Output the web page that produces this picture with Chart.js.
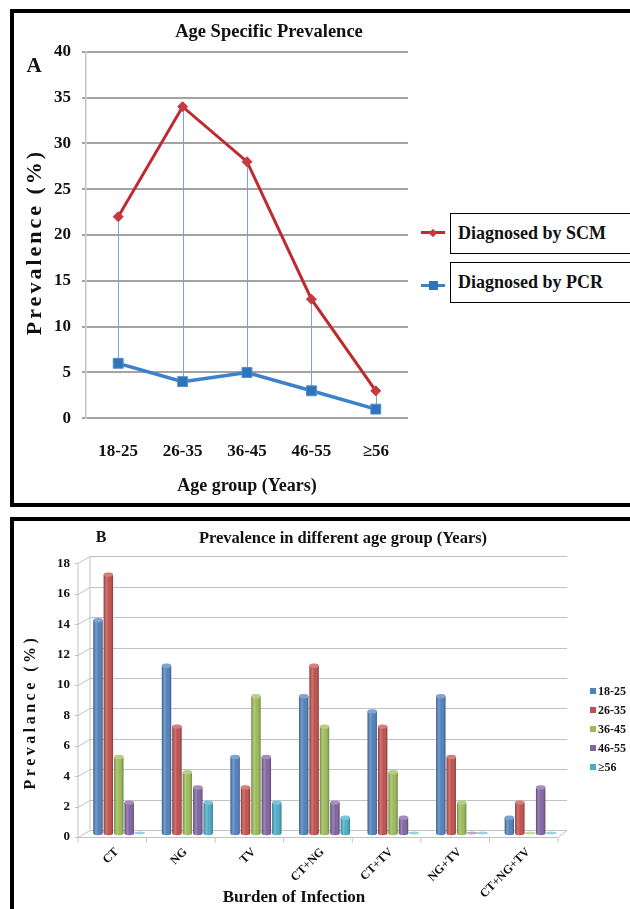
<!DOCTYPE html>
<html><head><meta charset="utf-8">
<script src="https://cdn.jsdelivr.net/npm/chart.js@4.4.1/dist/chart.umd.min.js"></script>
<style>
html,body{margin:0;padding:0;background:#fff;}
body{width:630px;height:909px;position:relative;overflow:hidden;font-family:"Liberation Serif","Times New Roman",serif;color:#111;}
.box{position:absolute;border:4px solid #000;box-sizing:border-box;}
.t{position:absolute;white-space:nowrap;font-weight:bold;transform:translate(-50%,-50%);line-height:1;}
.rot{transform:translate(-50%,-50%) rotate(-90deg);}
canvas{position:absolute;left:0;}
.lgA{position:absolute;border:1.5px solid #000;box-sizing:border-box;background:#fff;font-weight:bold;font-size:18px;padding-left:7px;white-space:nowrap;}
.lgB{position:absolute;font-weight:bold;font-size:12px;white-space:nowrap;line-height:1;}
</style></head><body>
<div class="box" style="left:10px;top:9px;width:640px;height:498px;"></div>
<div class="box" style="left:10px;top:517px;width:640px;height:420px;"></div>
<canvas id="cA" width="630" height="509" style="top:0"></canvas>
<canvas id="cB" width="630" height="400" style="top:509px"></canvas>
<div id="texts"></div>
<div id="legA"></div>
<div id="legB"></div>
<script>
// ---------- Panel A data ----------
const ageGroups = ['18-25', '26-35', '36-45', '46-55', '\u226556'];
const scmValues = [22, 34, 28, 13, 3];
const pcrValues = [6, 4, 5, 3, 1];
const seriesNamesA = ['Diagnosed by SCM', 'Diagnosed by PCR'];
const yMaxA = 40, yStepA = 5;

// ---------- Panel B data ----------
const infections = ['CT', 'NG', 'TV', 'CT+NG', 'CT+TV', 'NG+TV', 'CT+NG+TV'];
const ageLabelsB = ['18-25', '26-35', '36-45', '46-55', '\u226556'];
const g18_25 = [14, 11, 5, 9, 8, 9, 1];
const g26_35 = [17, 7, 3, 11, 7, 5, 2];
const g36_45 = [5, 4, 9, 7, 4, 2, 0];
const g46_55 = [2, 3, 5, 2, 1, 0, 3];
const g56up  = [0, 2, 2, 1, 0, 0, 0];
const yMaxB = 18, yStepB = 2;

// ---------- Texts ----------
const titleA = 'Age Specific Prevalence';
const yTitleA = 'Prevalence (%)';
const xTitleA = 'Age group (Years)';
const titleB = 'Prevalence in different age group (Years)';
const yTitleB = 'Prevalance (%)';
const xTitleB = 'Burden of Infection';

const serif = "'Liberation Serif','Times New Roman',serif";
Chart.defaults.font.family = serif;
Chart.defaults.color = '#111';

// ---------- HTML captions ----------
const captions = [
  {text: 'A', x: 34, y: 65, size: 21},
  {text: titleA, x: 269, y: 31, size: 18.5},
  {text: yTitleA, x: 34, y: 242, size: 22, rot: true, ls: 3},
  {text: 'B', x: 101, y: 537, size: 16},
  {text: titleB, x: 343, y: 538, size: 16.5},
  {text: yTitleB, x: 30, y: 712, size: 16, rot: true, ls: 3.5},
  {text: xTitleB, x: 294, y: 896, size: 17}
];
const tl = document.getElementById('texts');
captions.forEach(c => {
  const d = document.createElement('div');
  d.className = 't' + (c.rot ? ' rot' : '');
  d.style.left = c.x + 'px'; d.style.top = c.y + 'px';
  d.style.fontSize = c.size + 'px';
  if (c.ls) d.style.letterSpacing = c.ls + 'px';
  d.textContent = c.text;
  tl.appendChild(d);
});

// ---------- Panel A chart ----------
const dropLines = {
  id: 'dropLines',
  beforeDatasetsDraw(chart) {
    const a = chart.getDatasetMeta(0).data, b = chart.getDatasetMeta(1).data;
    const ctx = chart.ctx;
    ctx.save();
    ctx.strokeStyle = '#7fa3d4';
    ctx.lineWidth = 1;
    a.forEach((p, i) => {
      if (!b[i]) return;
      const xx = Math.round(p.x) + 0.5;
      ctx.beginPath(); ctx.moveTo(xx, p.y); ctx.lineTo(xx, b[i].y); ctx.stroke();
    });
    ctx.restore();
  }
};

const chartA = new Chart(document.getElementById('cA'), {
  type: 'line',
  data: {
    labels: ageGroups,
    datasets: [
      {label: seriesNamesA[0], data: scmValues, borderColor: '#bf2a30', backgroundColor: '#c53a3f',
       borderWidth: 3, pointStyle: 'rectRot', pointRadius: 5, pointBorderWidth: 1, pointBorderColor: '#c53a3f', tension: 0},
      {label: seriesNamesA[1], data: pcrValues, borderColor: '#3b82c8', backgroundColor: '#2f74bb',
       borderWidth: 3.5, pointStyle: 'rect', pointRadius: 7, pointBorderWidth: 1, pointBorderColor: '#4d8fd0', tension: 0}
    ]
  },
  options: {
    responsive: false, animation: false, devicePixelRatio: 1,
    layout: {padding: {left: 50, top: 51.7, right: 222, bottom: 12.2}},
    plugins: {legend: {display: false}, title: {display: false}, tooltip: {enabled: false}},
    scales: {
      x: {
        offset: true,
        grid: {display: false, drawTicks: false}, border: {display: false},
        ticks: {padding: 23, font: {size: 17, weight: 'bold'}, color: '#111', maxRotation: 0, autoSkip: false},
        title: {display: true, text: xTitleA, font: {size: 18, weight: 'bold'}, color: '#111', padding: {top: 0, bottom: 0}},
        afterFit(s) { s.height = 78.5; }
      },
      y: {
        min: 0, max: yMaxA,
        ticks: {stepSize: yStepA, padding: 11, font: {size: 17, weight: 'bold'}, color: '#111'},
        grid: {color: '#a3a3a3', lineWidth: 2, tickLength: 4, drawTicks: true},
        border: {display: true, color: '#c4c4c4', width: 1.5},
        afterFit(s) { s.width = 36; }
      }
    }
  },
  plugins: [dropLines]
});

// Legend A (boxed items) built from the chart's datasets
(function () {
  const el = document.getElementById('legA');
  const tops = [212.7, 261.7];
  chartA.data.datasets.forEach((ds, i) => {
    const box = document.createElement('div');
    box.className = 'lgA';
    box.style.left = '450px'; box.style.top = tops[i] + 'px';
    box.style.width = '200px'; box.style.height = '41px'; box.style.lineHeight = '38px';
    box.textContent = ds.label;
    el.appendChild(box);
    const cy = tops[i] + 20 + (i === 1 ? 4 : 0);
    const ln = document.createElement('div');
    ln.style.cssText = 'position:absolute;left:421px;width:24px;height:3px;top:' + (cy - 1.5) + 'px;background:' + ds.borderColor;
    el.appendChild(ln);
    const mk = document.createElement('div');
    const s = ds.pointStyle === 'rect' ? 9 : 6;
    mk.style.cssText = 'position:absolute;width:' + s + 'px;height:' + s + 'px;left:' + (433 - s / 2) + 'px;top:' + (cy - s / 2) + 'px;background:' + ds.backgroundColor +
      (ds.pointStyle === 'rectRot' ? ';transform:rotate(45deg)' : '');
    el.appendChild(mk);
  });
})();

// ---------- Panel B chart ----------
const seriesB = [
  {label: ageLabelsB[0], data: g18_25, color: '#4f81bd'},
  {label: ageLabelsB[1], data: g26_35, color: '#c0504d'},
  {label: ageLabelsB[2], data: g36_45, color: '#9bbb59'},
  {label: ageLabelsB[3], data: g46_55, color: '#8064a2'},
  {label: ageLabelsB[4], data: g56up,  color: '#4bacc6'}
];

const wall3d = {
  id: 'wall3d',
  beforeDatasetsDraw(chart) {
    const {ctx, scales: {x, y}} = chart;
    const dxF = -6.5, dxB = 5.5, dyF = 4, dyB = -3;
    const xf0 = x.left + dxF, xb0 = x.left + dxB, xf1 = x.right + dxF, xb1 = x.right + 2.5;
    const y0 = y.getPixelForValue(0), yT = y.getPixelForValue(y.max);
    ctx.save();
    ctx.strokeStyle = '#c2c2c2';
    ctx.lineWidth = 1;
    const line = (a, b, c, d) => { ctx.beginPath(); ctx.moveTo(a, b); ctx.lineTo(c, d); ctx.stroke(); };
    y.ticks.forEach(t => {
      const p = Math.round(y.getPixelForValue(t.value)) + 0.5;
      line(xf0 - 3, p + dyF, xf0, p + dyF);
      line(xf0, p + dyF, xb0, p + dyB);
      line(xb0, p + dyB, xb1, p + dyB);
    });
    line(xf0, yT + dyF, xf0, y0 + dyF);
    line(xb0, yT + dyB, xb0, y0 + dyB);
    const yf = Math.round(y0) + 0.5 + dyF;
    line(xf0, yf, xf1, yf);
    line(xf1, yf, xb1, yf - (dyF - dyB));
    for (let i = 0; i <= x.ticks.length; i++) {
      const px = x.getPixelForValue(i - 0.5) + dxF;
      line(px, yf, px, yf + 5);
    }
    ctx.restore();
  }
};

const cylinders = {
  id: 'cylinders',
  afterDatasetsDraw(chart) {
    const ctx = chart.ctx;
    chart.data.datasets.forEach((ds, di) => {
      const meta = chart.getDatasetMeta(di);
      meta.data.forEach(bar => {
        const {x, y, base, width} = bar.getProps(['x', 'y', 'base', 'width'], true);
        const l = x - width / 2, r = x + width / 2, h = base - y;
        const rx = width / 2, ry = 2.2;
        const col = ds.backgroundColor;
        ctx.save();
        if (h > 0.5) {
          const g = ctx.createLinearGradient(l, 0, r, 0);
          g.addColorStop(0, 'rgba(0,0,0,0.25)');
          g.addColorStop(0.3, 'rgba(255,255,255,0.22)');
          g.addColorStop(0.55, 'rgba(255,255,255,0)');
          g.addColorStop(1, 'rgba(0,0,0,0.30)');
          ctx.beginPath(); ctx.ellipse(x, base, rx, ry, 0, 0, Math.PI); ctx.fillStyle = col; ctx.fill();
          ctx.fillStyle = g; ctx.fill();
          ctx.fillRect(l, y, width, h);
          ctx.beginPath(); ctx.ellipse(x, y, rx, ry, 0, 0, 2 * Math.PI);
          ctx.fillStyle = col; ctx.fill();
          ctx.fillStyle = 'rgba(255,255,255,0.28)'; ctx.fill();
        } else {
          ctx.beginPath(); ctx.ellipse(x, base, rx + 1, 1.5, 0, 0, 2 * Math.PI);
          ctx.globalAlpha = 0.55; ctx.fillStyle = col; ctx.fill();
        }
        ctx.restore();
      });
    });
  }
};

const chartB = new Chart(document.getElementById('cB'), {
  type: 'bar',
  data: {
    labels: infections,
    datasets: seriesB.map(s => ({label: s.label, data: s.data, backgroundColor: s.color, borderWidth: 0,
      categoryPercentage: 0.76, barPercentage: 0.9}))
  },
  options: {
    responsive: false, animation: false, devicePixelRatio: 1,
    layout: {padding: {left: 40, top: 50.4, right: 65.5, bottom: 0}},
    plugins: {legend: {display: false}, title: {display: false}, tooltip: {enabled: false}},
    scales: {
      x: {
        grid: {display: false, drawTicks: false}, border: {display: false},
        ticks: {padding: 12, font: {size: 12, weight: 'bold'}, color: '#111', minRotation: 45, maxRotation: 45, autoSkip: false, labelOffset: -2},
        afterFit(s) { s.height = 76; }
      },
      y: {
        min: 0, max: yMaxB,
        ticks: {stepSize: yStepB, padding: 14.5, labelOffset: 4, font: {size: 13, weight: 'bold'}, color: '#111'},
        grid: {display: false, drawTicks: false}, border: {display: false},
        afterFit(s) { s.width = 44.5; }
      }
    }
  },
  plugins: [wall3d, cylinders]
});

// Legend B built from datasets
(function () {
  const el = document.getElementById('legB');
  chartB.data.datasets.forEach((ds, i) => {
    const cy = 691 + i * 19;
    const sq = document.createElement('div');
    sq.style.cssText = 'position:absolute;left:590px;width:6px;height:6px;top:' + (cy - 3) + 'px;background:' + ds.backgroundColor;
    el.appendChild(sq);
    const tx = document.createElement('div');
    tx.className = 'lgB';
    tx.style.left = '598px'; tx.style.top = (cy - 6) + 'px';
    tx.textContent = ds.label;
    el.appendChild(tx);
  });
})();
</script>
</body></html>
